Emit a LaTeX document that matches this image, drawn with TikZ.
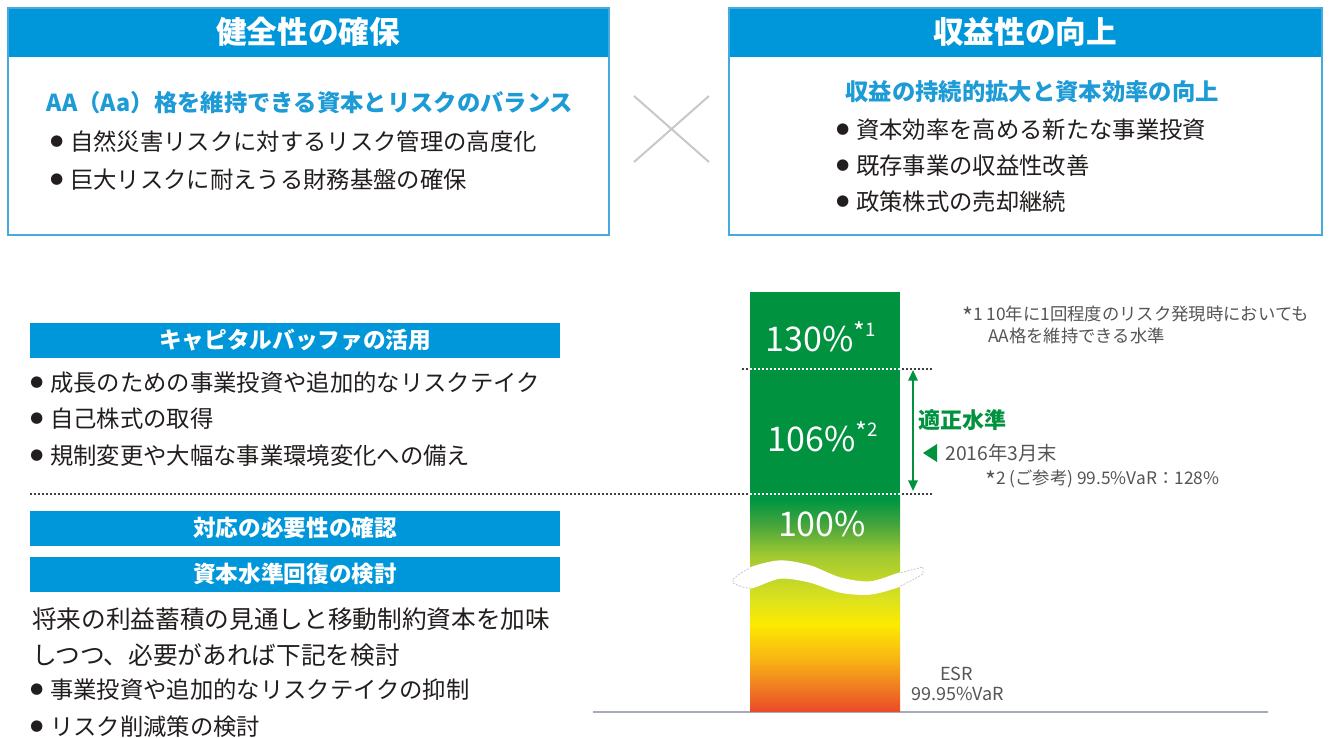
\documentclass[tikz,border=0pt]{standalone}
\usepackage{fontspec}
\setmainfont{Noto Sans CJK JP}
\usetikzlibrary{arrows.meta}
\definecolor{hdrblue}{RGB}{0,150,218}
\definecolor{subblue}{RGB}{28,155,215}
\definecolor{frameblue}{RGB}{70,170,222}
\definecolor{esrgreen}{RGB}{0,146,63}
\definecolor{txt}{RGB}{35,30,30}
\definecolor{note}{RGB}{85,85,85}
\definecolor{crossgray}{RGB}{200,200,200}
\definecolor{basegray}{RGB}{165,172,180}
\definecolor{cA}{RGB}{235,75,40}
\definecolor{cB}{RGB}{240,120,35}
\definecolor{cC}{RGB}{248,180,20}
\definecolor{cD}{RGB}{252,234,0}
\definecolor{cE}{RGB}{220,226,30}
\definecolor{cF}{RGB}{160,200,50}
\definecolor{cG}{RGB}{70,165,60}
\definecolor{cH}{RGB}{0,150,65}
\pgfdeclareverticalshading{esrshade}{100bp}{color(0bp)=(cA); color(25bp)=(cA); color(30bp)=(cB); color(36.9bp)=(cC); color(45bp)=(cD); color(50.7bp)=(cE); color(61bp)=(cF); color(67.9bp)=(cG); color(73.6bp)=(cH); color(75bp)=(esrgreen); color(100bp)=(esrgreen)}
\newcommand\bul{\raisebox{0.17em}{\scalebox{0.55}{●}}\hspace{0.3em}}
\newcommand\myast{\raisebox{-0.3em}{\scalebox{1.35}{*}}}
\tikzset{
  ttl/.style={text=white, font=\bfseries\fontsize{23}{26}\selectfont, inner sep=0},
  bartitle/.style={text=white, font=\bfseries\fontsize{17}{20}\selectfont, inner sep=0},
  sub/.style={text=subblue, font=\bfseries\fontsize{17.5}{20}\selectfont, inner sep=0},
  bl/.style={text=txt, font=\fontsize{17.5}{20}\selectfont, anchor=west, inner sep=0},
  para/.style={text=txt, font=\fontsize{18.5}{21}\selectfont, anchor=west, inner sep=0},
  pct/.style={text=white, font=\fontsize{25.5}{28}\selectfont, inner sep=0},
  note/.style={text=note, font=\fontsize{13}{15}\selectfont, anchor=west, inner sep=0},
  frameline/.style={draw=frameblue, line width=1.1pt},
  crossline/.style={draw=crossgray, line width=1.5pt},
  dotline/.style={draw=black!75, line width=0.9pt, dash pattern=on 1.5pt off 1.5pt},
  wdotline/.style={draw=white, line width=0.9pt, dash pattern=on 1.5pt off 1.5pt},
  garrow/.style={draw=esrgreen, line width=1.5pt, {Triangle[width=7pt,length=8pt]}-{Triangle[width=7pt,length=8pt]}},
}
\begin{document}
\begin{tikzpicture}[x=0.75pt,y=-0.75pt]
\useasboundingbox (0,0) rectangle (1330,738);
\fill[white] (0,0) rectangle (1330,738);
% ---------- top left box
\fill[hdrblue] (8,8) rectangle (609,57);
\draw[frameline] (8,8) rectangle (609,235);
\node[ttl] (t1) at (308,32) {健全性の確保};
\node[sub] (s1) at (310,103) {AA（Aa）格を維持できる資本とリスクのバランス};
\node[bl] (b11) at (50,142) {\bul 自然災害リスクに対するリスク管理の高度化};
\node[bl] (b12) at (50,180) {\bul 巨大リスクに耐えうる財務基盤の確保};
% ---------- cross
\coordinate (xa) at (634,96);
\coordinate (xb) at (709,162);
\coordinate (xc) at (634,162);
\coordinate (xd) at (709,96);
\draw[crossline] (xa) -- (xb);
\draw[crossline] (xc) -- (xd);
% ---------- top right box
\fill[hdrblue] (729,8) rectangle (1322,57);
\draw[frameline] (729,8) rectangle (1322,235);
\node[ttl] (t2) at (1025,32) {収益性の向上};
\node[sub] (s2) at (1032,92) {収益の持続的拡大と資本効率の向上};
\node[bl] (b21) at (836,130) {\bul 資本効率を高める新たな事業投資};
\node[bl] (b22) at (836,166) {\bul 既存事業の収益性改善};
\node[bl] (b23) at (836,202) {\bul 政策株式の売却継続};
% ---------- bottom left
\fill[hdrblue] (30,323) rectangle (560,358);
\node[bartitle] (h1) at (295,340) {キャピタルバッファの活用};
\node[bl] (c1) at (30,383) {\bul 成長のための事業投資や追加的なリスクテイク};
\node[bl] (c2) at (30,419) {\bul 自己株式の取得};
\node[bl] (c3) at (30,456) {\bul 規制変更や大幅な事業環境変化への備え};
\fill[hdrblue] (30,511) rectangle (560,546);
\node[bartitle] (h2) at (295,528) {対応の必要性の確認};
\fill[hdrblue] (30,557) rectangle (560,592);
\node[bartitle] (h3) at (295,574) {資本水準回復の検討};
\node[para] (p1) at (32,619) {将来の利益蓄積の見通しと移動制約資本を加味};
\node[para] (p2) at (32,655) {しつつ、必要があれば下記を検討};
\node[bl] (d1) at (30,690) {\bul 事業投資や追加的なリスクテイクの抑制};
\node[bl] (d2) at (30,727) {\bul リスク削減策の検討};
% ---------- dotted levels
\coordinate (la) at (742,369);
\coordinate (lb) at (932,369);
\coordinate (lc) at (30,494);
\coordinate (ld) at (932,494);
\draw[dotline] (la) -- (lb);
\draw[dotline] (lc) -- (ld);
% ---------- baseline
\coordinate (g1) at (593,712);
\coordinate (g2) at (1268,712);
\draw[draw=basegray, line width=2.2pt] (g1) -- (g2);
% ---------- ESR bar
\fill[esrgreen] (750,292) rectangle (900,495);
\shade[shading=esrshade] (750,494) rectangle (900,711);
\draw[wdotline] (750,369) -- (900,369);
\draw[wdotline] (750,494) -- (900,494);
% wave break
\path[fill=white, draw=black!25, line width=0.5pt, dash pattern=on 1.5pt off 1pt]
  plot[smooth] coordinates {(733,579) (750,568) (780,561) (810,566) (840,578) (870,582) (900,573) (923,567)}
  -- plot[smooth] coordinates {(923,574) (900,586) (870,594) (840,592) (810,582) (780,578) (750,588) (733,583)} -- cycle;
\begin{scope}
\clip (750,550) rectangle (900,600);
\path[fill=white, draw=white, line width=1pt]
  plot[smooth] coordinates {(733,579) (750,568) (780,561) (810,566) (840,578) (870,582) (900,573) (923,567)}
  -- plot[smooth] coordinates {(923,574) (900,586) (870,594) (840,592) (810,582) (780,578) (750,588) (733,583)} -- cycle;
\end{scope}
\node[pct] (v130) at (821,337) {130\%\raisebox{0.45em}{\fontsize{14}{14}\selectfont \myast1}};
\node[pct] (v106) at (823,437) {106\%\raisebox{0.45em}{\fontsize{14}{14}\selectfont \myast2}};
\node[pct] (v100) at (822,524) {100\%};
% ---------- right annotations
\coordinate (ua) at (913,370);
\coordinate (ub) at (913,491);
\draw[garrow] (ua) -- (ub);
\node[text=esrgreen, font=\bfseries\fontsize{16.5}{19}\selectfont, anchor=west, inner sep=0] (tk) at (918,420) {適正水準};
\fill[esrgreen] (923,453) -- (937,444) -- (937,462) -- cycle;
\node[note, font=\fontsize{14.5}{17}\selectfont] (d16) at (945,453) {2016年3月末};
\node[note] (n2) at (985,480) {\myast2 (ご参考) 99.5\%VaR：128\%};
\node[note] (n1a) at (962,316) {\myast1\ 10年に1回程度のリスク発現時においても};
\node[note] (n1b) at (988,336) {AA格を維持できる水準};
\node[note, font=\fontsize{13.5}{15}\selectfont] (esr) at (940,674) {ESR};
\node[note, font=\fontsize{13.5}{15}\selectfont] (var) at (911,694) {99.95\%VaR};
\end{tikzpicture}
\end{document}
